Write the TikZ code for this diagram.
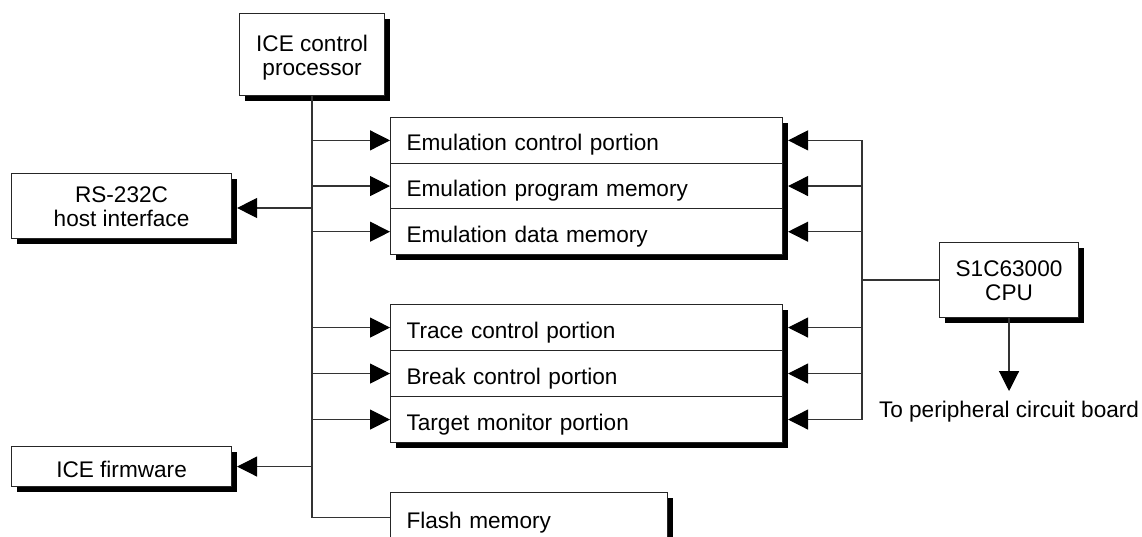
\documentclass[tikz,border=0pt]{standalone}
\usepackage{fontspec}
\setmainfont{Liberation Sans}
\usetikzlibrary{arrows.meta,shadows,calc}
\begin{document}
\begin{tikzpicture}[x=1pt,y=-1pt,
  font=\fontsize{22.6}{24}\selectfont,
  box/.style={draw=black!85,line width=1.1pt,fill=white,inner sep=0pt,align=center,anchor=north west},
  twoline/.style={box,text height=41.6pt,text depth=0pt},
  shadowed/.style={drop shadow={shadow xshift=5pt,shadow yshift=-5pt,fill=black,opacity=1}},
  onebox/.style={box,text height=21pt,text depth=0pt},
  rowbox/.style={draw=black!85,line width=1.1pt,inner xsep=16pt,inner ysep=0pt,align=left,text height=21pt,text depth=0pt,anchor=north west},
  wire/.style={draw=black!80,line width=1.2pt},
  arr/.style={wire,-{Triangle[length=20pt,width=20pt,fill=black,color=black]}},
]
\useasboundingbox (0,0) rectangle (1142,537);
\fill[white] (0,0) rectangle (1142,537);

% boxes
\node[twoline,shadowed,minimum width=145pt,minimum height=82pt] (proc) at (239,13) {ICE control\\processor};
\node[twoline,shadowed,minimum width=220pt,minimum height=65pt] (rs) at (11,173) {RS-232C\\host interface};
\node[onebox,shadowed,minimum width=220pt,minimum height=40pt] (fw) at (11,446) {ICE firmware};
\node[twoline,shadowed,minimum width=139pt,minimum height=75pt] (cpu) at (939,242) {S1C63000\\CPU};

% emulation group
\node[box,shadowed,minimum width=392pt,minimum height=137pt] (emu) at (390,117) {};
\node[rowbox,text width=360pt,minimum height=45.67pt] (e1) at (390,117) {Emulation control portion};
\node[rowbox,text width=360pt,minimum height=45.67pt] (e2) at (390,162.67) {Emulation program memory};
\node[rowbox,text width=360pt,minimum height=45.67pt] (e3) at (390,208.33) {Emulation data memory};

% trace group
\node[box,shadowed,minimum width=392pt,minimum height=138pt] (trc) at (390,304) {};
\node[rowbox,text width=360pt,minimum height=46pt] (t1) at (390,304) {Trace control portion};
\node[rowbox,text width=360pt,minimum height=46pt] (t2) at (390,350) {Break control portion};
\node[rowbox,text width=360pt,minimum height=46pt] (t3) at (390,396) {Target monitor portion};

% flash
\node[box,shadowed,minimum width=277pt,minimum height=50pt] (flashbg) at (390,492) {};
\node[rowbox,text width=245pt,minimum height=50pt] (flash) at (390,492) {Flash memory};

% left bus
\coordinate (rsj) at (312,208);
\draw[wire] (proc.south) |- (flash.west);
\draw[arr] (rsj) -- ([xshift=5pt]rsj -| rs.east);
\draw[arr] (proc.south |- fw.east) -- ([xshift=5pt]fw.east);
\foreach \r in {e1,e2,e3,t1,t2,t3}{
  \draw[arr] (proc.south |- \r.west) -- (\r.west);
}

% right bus
\coordinate (rb) at (862,0);
\draw[wire] (rb |- e1.east) -- (rb |- t3.east);
\foreach \r in {e1,e2,e3,t1,t2,t3}{
  \draw[arr] (rb |- \r.east) -- ([xshift=5pt]\r.east);
}
\draw[wire] (rb |- cpu.west) -- (cpu.west);

% cpu output
\coordinate (tip) at ($(cpu.south)+(0,73)$);
\draw[arr] (cpu.south) -- (tip);
\node[anchor=base,inner sep=0pt] (lbl) at ([yshift=-26pt]tip) {To peripheral circuit board};
\end{tikzpicture}
\end{document}
